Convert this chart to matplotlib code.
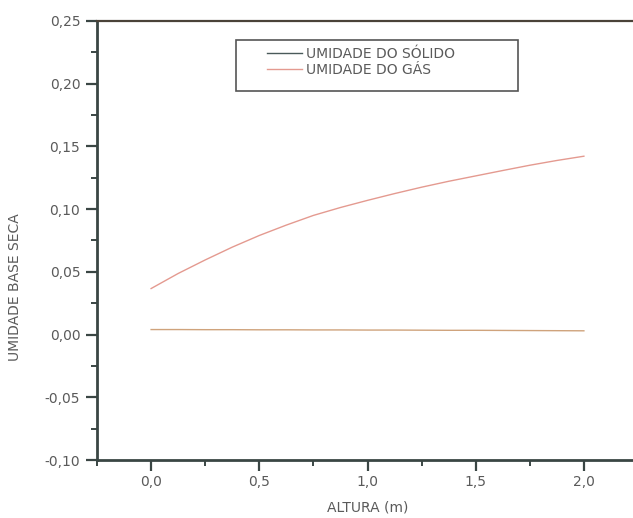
import numpy as np
import matplotlib.pyplot as plt
from matplotlib.patches import Rectangle
from matplotlib.ticker import MultipleLocator, FuncFormatter

# altura do leito (m)
altura = [0.0, 0.125, 0.25, 0.375, 0.5, 0.625, 0.75, 0.875, 1.0,
          1.125, 1.25, 1.375, 1.5, 1.625, 1.75, 1.875, 2.0]
# umidade base seca
umid_solido = [0.0040, 0.0040, 0.0039, 0.0039, 0.0038, 0.0038, 0.0037,
               0.0037, 0.0036, 0.0036, 0.0035, 0.0034, 0.0034, 0.0033,
               0.0032, 0.0031, 0.0030]
umid_gas = [0.0367, 0.0487, 0.0595, 0.0697, 0.0790, 0.0873, 0.0950,
            0.1013, 0.1070, 0.1124, 0.1175, 0.1222, 0.1265, 0.1308,
            0.1350, 0.1388, 0.1422]

plt.rcParams['font.family'] = ['DejaVu Sans']
cinza = '#3a4644'
texto = '#5a5a5a'

fig = plt.figure(figsize=(6.33, 5.18), dpi=100)
ax = fig.add_axes([97 / 633, 58 / 518, 541 / 633, 439 / 518])

ax.plot(altura, umid_solido, color='#cfa37c', lw=1.0, label='UMIDADE DO SÓLIDO')
ax.plot(altura, umid_gas, color='#e49a90', lw=1.0, label='UMIDADE DO GÁS')

ax.set_xlim(-0.25, 2.25)
ax.set_ylim(-0.10, 0.25)
ax.xaxis.set_major_locator(MultipleLocator(0.5))
ax.xaxis.set_minor_locator(MultipleLocator(0.25))
ax.yaxis.set_major_locator(MultipleLocator(0.05))
ax.yaxis.set_minor_locator(MultipleLocator(0.025))

virgula1 = FuncFormatter(lambda v, p: f'{v:.1f}'.replace('.', ','))
virgula2 = FuncFormatter(lambda v, p: f'{v:.2f}'.replace('.', ',').replace('-0,00', '0,00'))
ax.xaxis.set_major_formatter(virgula1)
ax.yaxis.set_major_formatter(virgula2)

for s in ['left', 'bottom']:
    ax.spines[s].set_color(cinza)
    ax.spines[s].set_linewidth(2.0)
ax.spines['top'].set_color('#4a4238')
ax.spines['top'].set_linewidth(1.6)
ax.spines['right'].set_visible(False)

ax.tick_params(which='major', direction='out', length=8, width=1.6,
               color=cinza, labelsize=10, labelcolor=texto)
ax.tick_params(axis='y', which='major', pad=4)
ax.tick_params(axis='x', which='major', pad=3)
ax.tick_params(which='minor', direction='out', length=4, width=1.4, color=cinza)
ax.tick_params(top=False, right=False)

ax.set_xlabel('ALTURA (m)', fontsize=10, color=texto, labelpad=8)
ax.set_ylabel('UMIDADE BASE SECA', fontsize=10, color=texto)
ax.yaxis.set_label_coords(-0.139, 0.394)

# moldura da legenda desenhada à parte
ax.add_patch(Rectangle((0.257, 0.8405), 0.521, 0.1165, transform=ax.transAxes,
                       facecolor='white', edgecolor='#555555', lw=1.2, zorder=4))
leg = ax.legend(loc='upper left', bbox_to_anchor=(0.314, 0.941),
                borderaxespad=0, borderpad=0, fontsize=10, frameon=False,
                handlelength=2.55, handletextpad=0.25, labelspacing=0.15)
leg.set_zorder(5)
for t in leg.get_texts():
    t.set_color(texto)
leg.get_lines()[0].set_color('#4a5a5a')

fig.savefig('out.png', dpi=100)
